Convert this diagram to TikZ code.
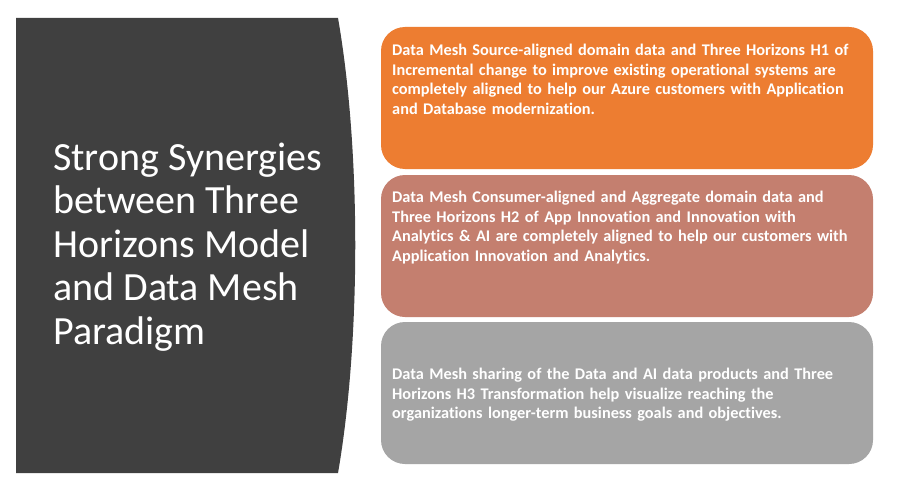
\documentclass[tikz,border=0pt]{standalone}
\usepackage{fontspec}
\setmainfont[Ligatures=NoCommon]{Carlito}
\definecolor{darkpanel}{HTML}{404040}
\definecolor{orangebox}{HTML}{ED7D31}
\definecolor{salmonbox}{HTML}{C47F6F}
\definecolor{graybox}{HTML}{A5A5A5}
\tikzset{
  infobox/.style={rounded corners=24pt, draw=none},
  infotext/.style={text=white, anchor=north west, align=left, text width=475pt, inner sep=0pt,
    font=\bfseries\fontsize{16.3}{19.5}\selectfont},
}
\begin{document}
\begin{tikzpicture}[x=1pt,y=-1pt]
\useasboundingbox[fill=white] (0,0) rectangle (904,484);
% left panel
\fill[darkpanel] (16,18) -- (338,18) .. controls (361,150) and (361,340) .. (338,473) -- (16,473) -- cycle;
\node[text=white, anchor=west, align=left, inner sep=0pt,
  font=\fontsize{40}{43.5}\selectfont] (title) at (53,247)
  {Strong Synergies\\between Three\\Horizons Model\\and Data Mesh\\Paradigm};
% boxes
\fill[orangebox, infobox] (381,27) rectangle (873,169);
\fill[salmonbox, infobox] (381,175) rectangle (873,317);
\fill[graybox, infobox] (381,322) rectangle (873,464);
\node[infotext] (t1) at (392,44) {Data Mesh Source-aligned domain data and Three Horizons H1 of\\Incremental change to improve existing operational systems are\\completely aligned to help our Azure customers with Application\\and Database modernization.};
\node[infotext] (t2) at (392,191) {Data Mesh Consumer-aligned and Aggregate domain data and\\Three Horizons H2 of App Innovation and Innovation with\\Analytics \& AI are completely aligned to help our customers with\\Application Innovation and Analytics.};
\node[infotext] (t3) at (392,368) {Data Mesh sharing of the Data and AI data products and Three\\Horizons H3 Transformation help visualize reaching the\\organizations longer-term business goals and objectives.};
\end{tikzpicture}
\end{document}
